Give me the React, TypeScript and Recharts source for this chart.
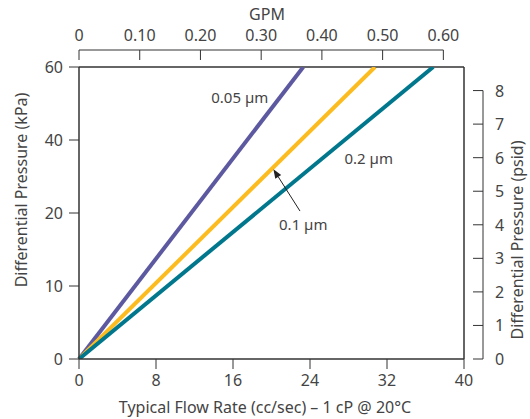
import React from "react";
import {
  Line,
  LineChart,
  ReferenceDot,
  ReferenceLine,
  XAxis,
  YAxis,
} from "recharts";

// pressure drop vs. flow, one straight line per filter grade
const pressureKpa = [0, 60];
const flow005 = [0, 23.3];
const flow01 = [0, 30.75];
const flow02 = [0, 36.8];

const flowTicks = [0, 8, 16, 24, 32, 40];
const gpmTicks = [0, 0.1, 0.2, 0.3, 0.4, 0.5, 0.6];
const psiTicks = [0, 1, 2, 3, 4, 5, 6, 7, 8];
// left axis ticks are evenly spaced, labels printed as on the original
const kpaTicks = [0, 15, 30, 45, 60];
const kpaTickLabels = ["0", "10", "20", "40", "60"];

const seriesNames = ["0.05 µm", "0.1 µm", "0.2 µm"];
const seriesLabelFlow = [16.7, 23.3, 30.1];
const seriesLabelKpa = [53.6, 27.5, 41.1];
const arrowFrom = { flow: 22.96, kpa: 30.4 };
const arrowTo = { flow: 20.2, kpa: 39.0 };

const CC_PER_GPM = 63.09;
const KPA_PER_PSI = 6.894757;

const COLORS = ["#5d59a0", "#fcbc1f", "#00778c"];
const AXIS = "#333";
const TEXT = "#444";
const FONT = "'Noto Sans', sans-serif";

const toPoints = (flows: number[]) =>
  flows.map((f, i) => ({ flow: f, kpa: pressureKpa[i] }));

const series = [flow005, flow01, flow02].map(toPoints);

const title =
  (text: string, cx: number, cy: number, angle = 0) =>
  () =>
    (
      <text
        x={cx}
        y={cy}
        transform={angle ? `rotate(${angle}, ${cx}, ${cy})` : undefined}
        textAnchor="middle"
        dominantBaseline="central"
        fill={TEXT}
        fontSize={16}
        fontFamily={FONT}
      >
        {text}
      </text>
    );

// top axis: ticks point down toward the plot, line sits above the frame
const GpmTick = (props: any) => {
  const { x, y, payload } = props;
  return (
    <g>
      <line x1={x} x2={x} y1={y - 17} y2={y - 7} stroke={AXIS} />
      <text
        x={x}
        y={y - 32}
        textAnchor="middle"
        dominantBaseline="central"
        fill={TEXT}
        fontSize={16}
        fontFamily={FONT}
      >
        {payload.value === 0 ? "0" : payload.value.toFixed(2)}
      </text>
    </g>
  );
};

// right axis: ticks point left, axis sits to the right of the frame
const PsiTick = (props: any) => {
  const { x, y, payload } = props;
  return (
    <g>
      <line x1={x + 9} x2={x + 19} y1={y} y2={y} stroke={AXIS} />
      <text
        x={x + 31}
        y={y}
        textAnchor="start"
        dominantBaseline="central"
        fill={TEXT}
        fontSize={16}
        fontFamily={FONT}
      >
        {payload.value}
      </text>
    </g>
  );
};

const Arrow = (p: any) => {
  const { x1, y1, x2, y2 } = p;
  const a = Math.atan2(y2 - y1, x2 - x1);
  const len = 9;
  const w = 3.5;
  const bx = x2 - len * Math.cos(a);
  const by = y2 - len * Math.sin(a);
  const pts = `${x2},${y2} ${bx + w * Math.sin(a)},${by - w * Math.cos(a)} ${
    bx - w * Math.sin(a)
  },${by + w * Math.cos(a)}`;
  return (
    <g>
      <line x1={x1} y1={y1} x2={bx} y2={by} stroke="#222" strokeWidth={1} />
      <polygon points={pts} fill="#222" />
    </g>
  );
};

export default function App() {
  return (
    <div style={{ position: "fixed", left: 0, top: 0, background: "#fff" }}>
      <LineChart
        width={530}
        height={419}
        margin={{ top: 0, right: 0, bottom: 0, left: 0 }}
        style={{ fontFamily: FONT }}
      >
        <XAxis
          xAxisId="cc"
          type="number"
          dataKey="flow"
          domain={[0, 40]}
          ticks={flowTicks}
          height={60}
          tickSize={10}
          tickMargin={6}
          axisLine={{ stroke: AXIS, strokeWidth: 1.5 }}
          tickLine={{ stroke: AXIS }}
          tick={{ fill: TEXT, fontSize: 16 }}
          label={{
            content: title("Typical Flow Rate (cc/sec) – 1 cP @ 20°C", 265, 407),
          }}
        />
        <XAxis
          xAxisId="gpm"
          orientation="top"
          type="number"
          dataKey="gpm"
          domain={[0, 40 / CC_PER_GPM]}
          allowDataOverflow
          ticks={gpmTicks}
          height={67}
          tickSize={0}
          tickMargin={0}
          axisLine={false}
          tickLine={false}
          tick={GpmTick}
          label={{ content: title("GPM", 267, 14) }}
        />
        <YAxis
          yAxisId="kpa"
          type="number"
          domain={[0, 60]}
          allowDataOverflow
          ticks={kpaTicks}
          tickFormatter={(v: number) => kpaTickLabels[kpaTicks.indexOf(v)]}
          width={79}
          tickSize={10}
          tickMargin={6}
          axisLine={{ stroke: AXIS, strokeWidth: 1.5 }}
          tickLine={{ stroke: AXIS }}
          tick={{ fill: TEXT, fontSize: 16 }}
          label={{
            content: title("Differential Pressure (kPa)", 21, 190, -90),
          }}
        />
        <YAxis
          yAxisId="psi"
          orientation="right"
          type="number"
          dataKey="psi"
          domain={[0, 60 / KPA_PER_PSI]}
          allowDataOverflow
          ticks={psiTicks}
          width={66}
          tickSize={0}
          tickMargin={0}
          axisLine={false}
          tickLine={false}
          tick={PsiTick}
          label={{
            content: title("Differential Pressure (psid)", 517, 240, -90),
          }}
        />

        {/* frame */}
        <ReferenceLine
          xAxisId="cc"
          yAxisId="kpa"
          y={60}
          stroke={AXIS}
          strokeWidth={1.5}
        />
        <ReferenceLine
          xAxisId="cc"
          yAxisId="kpa"
          x={40}
          stroke={AXIS}
          strokeWidth={1.5}
        />
        {/* detached top and right axis lines */}
        <ReferenceLine
          xAxisId="gpm"
          yAxisId="kpa"
          segment={[
            { x: 0, y: 60 },
            { x: 0.6, y: 60 },
          ]}
          shape={(p: any) => (
            <line
              x1={p.x1}
              x2={p.x2}
              y1={p.y1 - 17}
              y2={p.y2 - 17}
              stroke={AXIS}
            />
          )}
        />
        <ReferenceLine
          xAxisId="cc"
          yAxisId="psi"
          segment={[
            { x: 40, y: 0 },
            { x: 40, y: 8 },
          ]}
          shape={(p: any) => (
            <line
              x1={p.x1 + 19}
              x2={p.x2 + 19}
              y1={p.y1}
              y2={p.y2}
              stroke={AXIS}
            />
          )}
        />

        {series.map((data, i) => (
          <Line
            key={seriesNames[i]}
            data={data}
            xAxisId="cc"
            yAxisId="kpa"
            dataKey="kpa"
            stroke={COLORS[i]}
            strokeWidth={4}
            dot={false}
            activeDot={false}
            isAnimationActive={false}
          />
        ))}

        {seriesNames.map((name, i) => (
          <ReferenceDot
            key={`lbl-${name}`}
            xAxisId="cc"
            yAxisId="kpa"
            x={seriesLabelFlow[i]}
            y={seriesLabelKpa[i]}
            r={0}
            fill="none"
            stroke="none"
            label={{
              value: name,
              position: "center",
              fill: TEXT,
              fontSize: 15,
              fontFamily: FONT,
            }}
          />
        ))}

        <ReferenceLine
          xAxisId="cc"
          yAxisId="kpa"
          segment={[
            { x: arrowFrom.flow, y: arrowFrom.kpa },
            { x: arrowTo.flow, y: arrowTo.kpa },
          ]}
          shape={Arrow}
        />
      </LineChart>
    </div>
  );
}
